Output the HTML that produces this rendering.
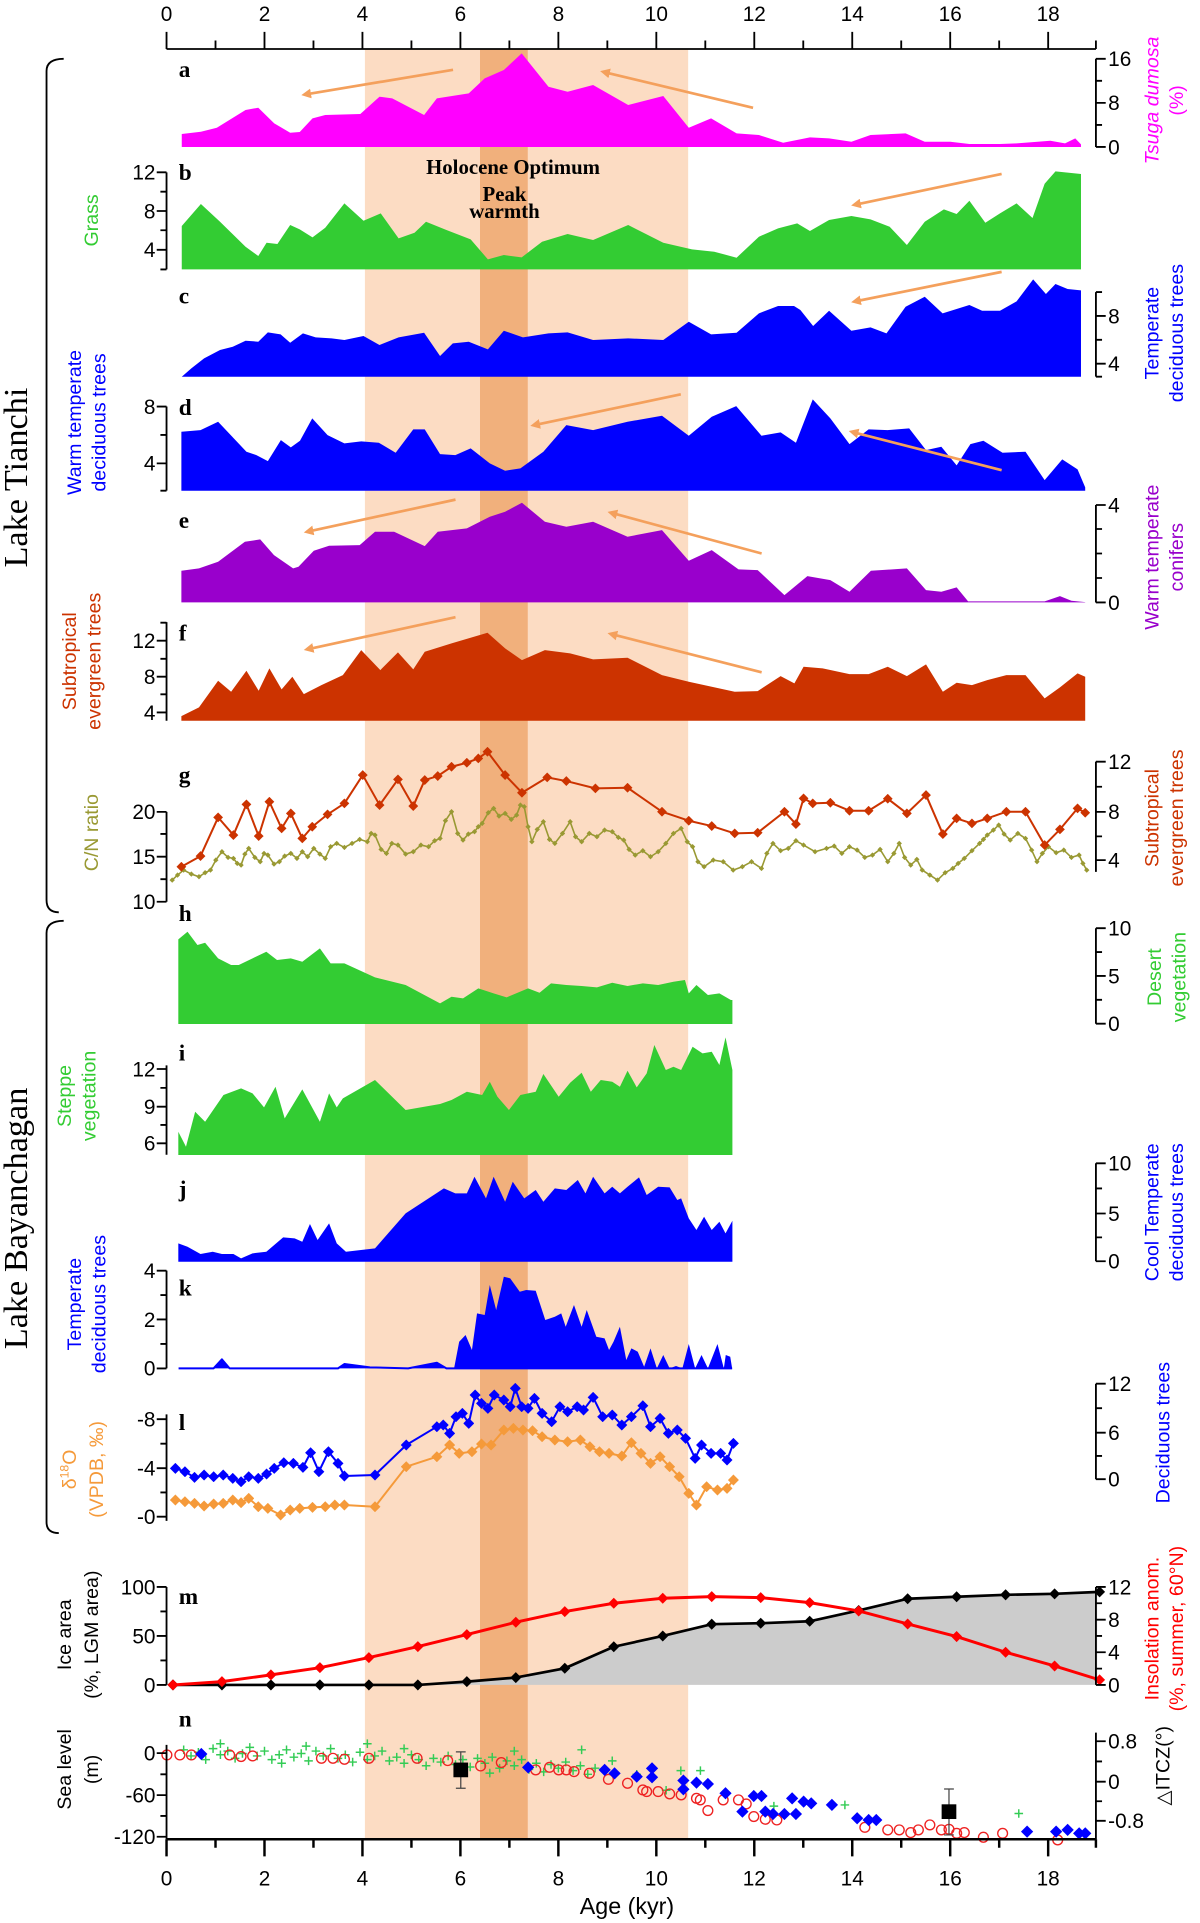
<!DOCTYPE html>
<html><head><meta charset="utf-8"><style>
html,body{margin:0;padding:0;background:#fff;}
svg{display:block;}
.ax{font-family:"Liberation Sans Narrow","Liberation Sans",sans-serif;font-size:17px;fill:#000;}
.pl{font-family:"Liberation Serif",serif;font-weight:bold;font-size:19px;}
.lb{font-family:"Liberation Sans",sans-serif;font-size:16px;text-anchor:middle;}
.lk{font-family:"Liberation Serif",serif;font-size:28px;text-anchor:middle;}
.ns{vector-effect:non-scaling-stroke;fill:none;stroke-linejoin:round;}
</style></head><body>
<svg xmlns="http://www.w3.org/2000/svg" width="1200" height="1923" viewBox="0 0 980 1570.4">
<defs>
<marker id="ah" markerWidth="8" markerHeight="8" refX="4" refY="4" orient="auto" markerUnits="userSpaceOnUse" viewBox="0 0 8 8"><path d="M0,0 L8,4 L0,8 Z" fill="#f4a05c"/></marker>
<marker id="m3r" markerUnits="userSpaceOnUse" viewBox="-6.4 -14.7 12.8 29.4" markerWidth="12.8" markerHeight="29.4" refX="0" refY="0"><path d="M0,-14.7L6.4,0L0,14.7L-6.4,0Z" fill="#cc3300"/></marker>
<marker id="m3o" markerUnits="userSpaceOnUse" viewBox="-3.5 -8.1 7 16.2" markerWidth="7" markerHeight="16.2" refX="0" refY="0"><path d="M0,-8.1L3.5,0L0,8.1L-3.5,0Z" fill="#999933"/></marker>
<marker id="m2b" markerUnits="userSpaceOnUse" viewBox="-8.6 -16.5 17.2 33" markerWidth="17.2" markerHeight="33" refX="0" refY="0"><path d="M0,-16.5L8.6,0L0,16.5L-8.6,0Z" fill="#0000ff"/></marker>
<marker id="m2o" markerUnits="userSpaceOnUse" viewBox="-8.6 -16.5 17.2 33" markerWidth="17.2" markerHeight="33" refX="0" refY="0"><path d="M0,-16.5L8.6,0L0,16.5L-8.6,0Z" fill="#f59a3a"/></marker>
<marker id="mk" markerUnits="userSpaceOnUse" viewBox="-5 -5 10 10" markerWidth="10" markerHeight="10" refX="0" refY="0"><path d="M0,-4.5L4.5,0L0,4.5L-4.5,0Z" fill="#000"/></marker>
<marker id="mr" markerUnits="userSpaceOnUse" viewBox="-5 -5 10 10" markerWidth="10" markerHeight="10" refX="0" refY="0"><path d="M0,-4.5L4.5,0L0,4.5L-4.5,0Z" fill="#ff0000"/></marker>
<marker id="mb" markerUnits="userSpaceOnUse" viewBox="-6 -6 12 12" markerWidth="12" markerHeight="12" refX="0" refY="0"><path d="M0,-5L5,0L0,5L-5,0Z" fill="#0000ff"/></marker>
<marker id="mc" markerUnits="userSpaceOnUse" viewBox="-6 -6 12 12" markerWidth="12" markerHeight="12" refX="0" refY="0"><circle r="4" fill="none" stroke="#ee2222" stroke-width="1.1"/></marker>
</defs>
<rect x="298" y="40" width="264" height="1462" fill="#fcdcc3"/>
<rect x="392" y="40" width="39" height="1462" fill="#f1b07c"/>

<!-- a,b,c (zoom1 coords) -->
<g transform="scale(0.52083,0.27222)">
<polygon fill="#ff00ff" points="285,440.8 285,402 315,395 340,383 385,330 405,323 430,370 455,398 470,396 490,355 510,345 565,342 595,290 615,295 665,345 685,295 735,280 760,235 790,210 818,160 860,260 890,275 930,255 985,315 1040,288 1080,383 1115,355 1155,400 1190,405 1228,428 1270,412 1300,415 1335,425 1365,405 1420,400 1450,425 1490,425 1520,432 1568,432 1594,430 1622,426 1647,422 1670,430 1686,415 1695,433 1695,440.8"/>
<polygon fill="#33cc33" points="285,808 285,678 315,612 345,665 385,740 405,768 418,728 435,732 455,675 470,688 490,712 510,683 540,610 570,662 597,640 625,715 650,698 668,665 700,690 738,718 765,778 790,765 818,772 850,725 890,702 930,720 985,675 1040,728 1085,748 1120,755 1155,773 1190,710 1220,685 1250,670 1270,693 1300,660 1335,648 1365,658 1395,680 1422,735 1450,665 1480,628 1500,642 1520,602 1545,668 1568,640 1594,610 1619,654 1638,551 1655,514 1676,518 1695,522 1695,808"/>
<polygon fill="#0000ff" points="285,1130 300,1105 320,1075 345,1050 365,1040 385,1022 405,1025 420,997 440,1003 455,1028 475,1000 495,1012 520,1015 540,1020 570,1008 595,1035 625,1012 665,998 690,1068 710,1030 735,1025 765,1048 790,992 820,1012 860,1000 890,997 930,1020 985,1015 1040,1020 1080,965 1115,1003 1155,998 1190,940 1220,918 1245,918 1255,930 1275,978 1300,932 1335,992 1365,982 1390,1000 1420,920 1450,890 1478,940 1520,915 1540,932 1568,932 1594,904 1620,838 1640,882 1655,852 1674,867 1695,871 1695,1130"/>
</g>

<!-- d,e,f,g (zoom3 coords) -->
<g transform="translate(0,326.7) scale(0.625,0.27222)">
<polygon fill="#0000ff" points="237,272 237,95 262,90 285,65 322,155 335,165 350,183 367,120 380,142 392,122 408,55 428,105 450,130 472,124 495,128 517,158 540,88 555,88 575,162 595,165 615,145 640,190 660,212 680,205 710,155 740,75 775,90 820,65 865,47 900,107 930,50 962,18 995,107 1020,97 1040,128 1062,-2 1085,55 1110,132 1135,88 1160,90 1188,85 1210,150 1230,140 1250,196 1268,132 1285,122 1310,158 1340,155 1365,240 1388,178 1408,208 1418,262 1418,272"/>
<polygon fill="#9900cc" points="237,607 237,512 260,505 285,485 320,425 340,418 358,465 383,505 390,500 410,452 430,437 470,435 490,395 515,395 555,438 572,395 610,385 640,350 660,335 682,308 712,365 740,380 775,365 820,410 865,390 900,482 930,450 965,508 990,510 1025,585 1055,528 1085,540 1110,575 1138,512 1185,505 1210,570 1230,575 1250,562 1265,604 1365,604 1385,588 1400,602 1418,606 1418,607"/>
<polygon fill="#cc3300" points="237,962 237,948 260,922 285,842 302,875 322,812 338,872 352,805 368,868 382,830 397,882 420,855 448,825 472,750 497,810 520,757 540,808 555,755 590,730 637,698 660,745 682,780 712,750 745,760 775,778 820,773 865,825 900,845 960,875 990,873 1020,828 1038,850 1050,800 1075,805 1110,822 1135,822 1160,800 1185,828 1210,793 1232,875 1250,848 1270,855 1290,840 1315,825 1340,825 1365,895 1385,862 1408,820 1418,830 1418,962"/>
<polyline class="ns" stroke="#999933" stroke-width="1.6" marker-start="url(#m3o)" marker-mid="url(#m3o)" marker-end="url(#m3o)" points="225,1440 232,1425 240,1410 250,1422 260,1430 268,1418 275,1410 282,1380 290,1355 298,1372 305,1375 310,1390 315,1395 320,1362 325,1345 333,1372 340,1385 345,1360 350,1365 358,1392 365,1385 372,1368 380,1360 388,1375 395,1355 402,1370 410,1345 418,1362 425,1375 432,1340 440,1330 450,1342 460,1330 470,1318 480,1325 485,1300 490,1305 498,1348 505,1360 512,1330 520,1335 530,1362 540,1355 550,1335 560,1340 568,1322 575,1315 582,1262 590,1235 598,1300 605,1320 612,1302 620,1295 625,1280 630,1270 638,1238 645,1225 652,1248 660,1240 668,1258 675,1245 680,1215 685,1220 690,1280 695,1325 702,1288 710,1265 718,1318 725,1330 735,1300 745,1265 752,1310 760,1325 770,1300 780,1310 790,1290 800,1295 808,1312 815,1320 822,1348 830,1365 840,1352 850,1370 860,1355 870,1330 880,1300 890,1285 898,1325 905,1340 912,1385 920,1400 932,1380 945,1385 958,1410 970,1400 982,1385 995,1405 1002,1360 1010,1330 1020,1352 1030,1345 1040,1322 1050,1335 1065,1355 1080,1345 1090,1338 1100,1360 1110,1340 1120,1350 1130,1372 1140,1365 1150,1348 1160,1385 1168,1360 1175,1330 1182,1372 1190,1395 1198,1378 1205,1410 1215,1425 1225,1440 1235,1418 1245,1405 1252,1390 1260,1375 1270,1352 1280,1330 1285,1318 1290,1305 1298,1290 1305,1275 1312,1302 1320,1320 1330,1300 1340,1315 1348,1350 1355,1385 1362,1360 1370,1340 1380,1358 1390,1350 1400,1372 1410,1365 1415,1390 1420,1410"/>
<polyline class="ns" stroke="#cc3300" stroke-width="2" marker-start="url(#m3r)" marker-mid="url(#m3r)" marker-end="url(#m3r)" points="237,1400 262,1368 285,1252 305,1305 322,1213 338,1308 352,1205 368,1285 380,1240 395,1315 408,1280 428,1243 450,1210 474,1125 496,1215 520,1138 540,1218 555,1140 572,1128 590,1100 610,1088 625,1075 637,1055 660,1125 682,1178 715,1132 740,1143 778,1165 820,1163 865,1235 900,1262 930,1278 960,1300 990,1298 1025,1235 1040,1272 1050,1195 1062,1210 1085,1208 1110,1232 1135,1232 1160,1196 1185,1240 1210,1185 1232,1302 1250,1255 1270,1270 1290,1255 1315,1235 1340,1235 1365,1335 1385,1288 1408,1225 1418,1238"/>
</g>

<!-- h,i,j (zoom4 coords) -->
<g transform="translate(0,735) scale(0.625,0.27222)">
<polygon fill="#33cc33" points="233,372 233,118 245,95 258,135 268,128 285,175 302,195 312,195 330,175 348,155 362,180 380,175 395,185 418,145 432,190 450,190 490,232 530,255 575,310 590,290 605,295 625,265 645,280 662,292 690,265 705,278 720,250 740,255 760,258 780,262 800,248 820,258 840,250 860,255 880,245 895,240 900,280 910,255 925,285 940,280 955,300 957,300 957,372"/>
<polygon fill="#33cc33" points="233,765 233,695 243,740 255,635 268,665 292,585 315,565 330,580 345,622 360,560 372,655 395,568 418,665 430,580 440,622 448,595 490,540 530,630 575,612 590,600 610,575 630,585 640,545 650,590 665,630 680,585 700,575 710,522 730,590 745,548 760,518 772,575 785,540 800,545 810,560 820,512 832,562 845,520 855,435 870,510 880,500 890,510 905,440 918,460 930,455 940,495 948,412 957,510 957,765"/>
<polygon fill="#0000ff" points="233,1085 233,1030 245,1040 262,1062 278,1055 290,1062 305,1062 315,1075 330,1060 348,1055 370,1012 385,1015 395,1025 405,972 415,1020 430,970 440,1030 452,1055 490,1045 530,940 580,865 595,880 610,880 620,830 635,895 645,830 660,905 670,845 685,895 700,870 710,905 725,865 740,870 755,840 765,880 775,830 790,880 800,860 810,880 820,860 835,832 845,885 860,860 875,862 885,900 890,895 900,955 910,990 920,950 930,990 940,965 948,1000 957,962 957,1085"/>
</g>

<!-- k,l (zoom2 coords) -->
<g transform="translate(0,1029) scale(0.52083,0.27222)">
<polygon fill="#0000ff" points="280,325 335,325 348,298 360,325 530,325 540,312 580,322 640,325 685,308 700,325 712,325 720,245 730,225 740,270 748,160 760,165 768,75 778,150 790,50 800,55 815,95 825,90 840,92 855,180 870,170 880,160 887,200 900,135 912,200 920,150 935,230 948,235 955,270 962,245 972,200 982,300 990,265 1000,275 1010,320 1020,265 1030,325 1040,285 1050,325 1060,318 1070,325 1080,252 1090,325 1100,285 1110,325 1125,252 1135,325 1138,285 1145,290 1148,325"/>
<polyline class="ns" stroke="#0000ff" stroke-width="2" points="280,325 335,325 348,298 360,325 530,325 540,312 580,322 640,325 685,308 700,325 712,325 1148,325"/>
<polyline class="ns" stroke="#0000ff" stroke-width="2" marker-start="url(#m2b)" marker-mid="url(#m2b)" marker-end="url(#m2b)" points="275,625 290,635 305,652 320,645 335,650 350,645 365,655 378,665 390,650 405,655 418,642 430,625 445,608 460,610 475,622 487,578 500,635 515,575 530,610 540,648 588,645 637,555 685,500 695,495 705,520 715,470 725,460 735,490 745,405 755,430 765,445 775,405 790,420 800,440 808,385 818,440 828,445 838,415 850,460 865,485 878,440 890,455 905,440 915,450 930,412 945,470 960,465 975,495 990,470 1008,437 1020,500 1035,475 1048,520 1062,510 1075,535 1090,595 1100,555 1115,580 1130,580 1140,600 1150,550"/>
<polyline class="ns" stroke="#f59a3a" stroke-width="2" marker-start="url(#m2o)" marker-mid="url(#m2o)" marker-end="url(#m2o)" points="275,720 290,725 305,730 320,738 335,732 350,730 365,720 378,728 390,715 405,740 420,745 440,765 455,750 470,745 490,742 510,740 525,735 540,735 588,740 637,620 685,590 705,555 720,580 740,575 755,552 770,555 790,510 805,505 820,510 835,512 850,530 870,540 890,545 910,540 925,560 940,575 955,580 975,588 990,548 1005,580 1020,610 1035,590 1050,620 1065,650 1080,700 1092,735 1108,680 1125,690 1140,685 1150,660"/>
</g>

<!-- m -->
<polygon fill="#cccccc" points="141.25,1376 181.25,1376 221.25,1376 261.25,1376 301.25,1376 341.25,1376 381.25,1373.3 421.25,1370 461.25,1362.4 501.25,1344.8 541.25,1336 581.25,1326.4 621.25,1325.6 661.25,1324 701.25,1315.2 741.25,1305.6 781.25,1304 821.25,1302.4 861.25,1301.6 896,1300 896,1376"/>
<polyline fill="none" stroke="#000" stroke-width="2.2" marker-start="url(#mk)" marker-mid="url(#mk)" marker-end="url(#mk)" points="141.25,1376 181.25,1376 221.25,1376 261.25,1376 301.25,1376 341.25,1376 381.25,1373.3 421.25,1370 461.25,1362.4 501.25,1344.8 541.25,1336 581.25,1326.4 621.25,1325.6 661.25,1324 701.25,1315.2 741.25,1305.6 781.25,1304 821.25,1302.4 861.25,1301.6 898,1300"/>
<polyline fill="none" stroke="#ff0000" stroke-width="2.4" marker-start="url(#mr)" marker-mid="url(#mr)" marker-end="url(#mr)" points="141.25,1376 181.25,1373.3 221.25,1367.8 261.25,1361.9 301.25,1353.7 341.25,1344.7 381.25,1334.9 421.25,1324.8 461.25,1316.1 501.25,1309.3 541.25,1305.2 581.25,1303.9 621.25,1304.7 661.25,1308.8 701.25,1315.6 741.25,1326.2 781.25,1336.5 821.25,1349.3 861.25,1360.5 898,1371.9"/>

<!-- n -->
<path fill="none" stroke="#33cc55" stroke-width="1.2" d="M150,1429m-3.5,0h7m-3.5,-3.5v7 M156,1434m-3.5,0h7m-3.5,-3.5v7 M162,1431m-3.5,0h7m-3.5,-3.5v7 M168,1437m-3.5,0h7m-3.5,-3.5v7 M174,1428m-3.5,0h7m-3.5,-3.5v7 M180,1433m-3.5,0h7m-3.5,-3.5v7 M186,1430m-3.5,0h7m-3.5,-3.5v7 M192,1436m-3.5,0h7m-3.5,-3.5v7 M198,1432m-3.5,0h7m-3.5,-3.5v7 M204,1427m-3.5,0h7m-3.5,-3.5v7 M210,1434m-3.5,0h7m-3.5,-3.5v7 M216,1430m-3.5,0h7m-3.5,-3.5v7 M222,1437m-3.5,0h7m-3.5,-3.5v7 M228,1433m-3.5,0h7m-3.5,-3.5v7 M234,1429m-3.5,0h7m-3.5,-3.5v7 M240,1435m-3.5,0h7m-3.5,-3.5v7 M246,1432m-3.5,0h7m-3.5,-3.5v7 M252,1438m-3.5,0h7m-3.5,-3.5v7 M258,1430m-3.5,0h7m-3.5,-3.5v7 M264,1434m-3.5,0h7m-3.5,-3.5v7 M270,1428m-3.5,0h7m-3.5,-3.5v7 M276,1436m-3.5,0h7m-3.5,-3.5v7 M282,1433m-3.5,0h7m-3.5,-3.5v7 M288,1439m-3.5,0h7m-3.5,-3.5v7 M294,1431m-3.5,0h7m-3.5,-3.5v7 M300,1437m-3.5,0h7m-3.5,-3.5v7 M306,1434m-3.5,0h7m-3.5,-3.5v7 M312,1430m-3.5,0h7m-3.5,-3.5v7 M318,1438m-3.5,0h7m-3.5,-3.5v7 M324,1435m-3.5,0h7m-3.5,-3.5v7 M330,1440m-3.5,0h7m-3.5,-3.5v7 M336,1433m-3.5,0h7m-3.5,-3.5v7 M342,1437m-3.5,0h7m-3.5,-3.5v7 M348,1442m-3.5,0h7m-3.5,-3.5v7 M354,1436m-3.5,0h7m-3.5,-3.5v7 M360,1439m-3.5,0h7m-3.5,-3.5v7 M366,1434m-3.5,0h7m-3.5,-3.5v7 M372,1441m-3.5,0h7m-3.5,-3.5v7 M378,1437m-3.5,0h7m-3.5,-3.5v7 M384,1443m-3.5,0h7m-3.5,-3.5v7 M390,1436m-3.5,0h7m-3.5,-3.5v7 M396,1440m-3.5,0h7m-3.5,-3.5v7 M402,1435m-3.5,0h7m-3.5,-3.5v7 M408,1444m-3.5,0h7m-3.5,-3.5v7 M414,1438m-3.5,0h7m-3.5,-3.5v7 M420,1442m-3.5,0h7m-3.5,-3.5v7 M426,1437m-3.5,0h7m-3.5,-3.5v7 M432,1445m-3.5,0h7m-3.5,-3.5v7 M438,1440m-3.5,0h7m-3.5,-3.5v7 M444,1447m-3.5,0h7m-3.5,-3.5v7 M450,1441m-3.5,0h7m-3.5,-3.5v7 M456,1444m-3.5,0h7m-3.5,-3.5v7 M462,1439m-3.5,0h7m-3.5,-3.5v7 M468,1446m-3.5,0h7m-3.5,-3.5v7 M474,1442m-3.5,0h7m-3.5,-3.5v7 M480,1449m-3.5,0h7m-3.5,-3.5v7 M486,1444m-3.5,0h7m-3.5,-3.5v7 M250,1426m-3.5,0h7m-3.5,-3.5v7 M300,1424m-3.5,0h7m-3.5,-3.5v7 M180,1424m-3.5,0h7m-3.5,-3.5v7 M420,1430m-3.5,0h7m-3.5,-3.5v7 M475,1429m-3.5,0h7m-3.5,-3.5v7 M500,1438m-3.5,0h7m-3.5,-3.5v7 M556,1446m-3.5,0h7m-3.5,-3.5v7 M572,1446m-3.5,0h7m-3.5,-3.5v7 M544,1462m-3.5,0h7m-3.5,-3.5v7 M632,1475m-3.5,0h7m-3.5,-3.5v7 M690,1474m-3.5,0h7m-3.5,-3.5v7 M832,1481m-3.5,0h7m-3.5,-3.5v7 M520,1449m-3.5,0h7m-3.5,-3.5v7 M230,1440m-3.5,0h7m-3.5,-3.5v7 M330,1428m-3.5,0h7m-3.5,-3.5v7 M400,1448m-3.5,0h7m-3.5,-3.5v7"/>
<polyline fill="none" stroke="none" marker-start="url(#mc)" marker-mid="url(#mc)" marker-end="url(#mc)" points="136.3,1433.2 146.9,1433.2 156.3,1433.2 187.5,1433.2 196.9,1434.5 206.3,1434 262.5,1435.9 271.9,1435.9 281.3,1436.7 301.3,1435.9 340.6,1435.9 365.6,1437.8 392.5,1442.2 409.4,1439.4 437.5,1445.4 448.8,1443.3 456.3,1445.4 462.5,1445.4 468.8,1446.8 481.3,1448.2 496.9,1453.1 512.5,1456.3 525,1461.8 528.1,1463.1 537.5,1463.1 546.9,1465 556.3,1465.8 568.8,1468.6 571.9,1469.9 578.1,1478.6 590.6,1469.9 603.1,1469.9 609.4,1473.2 615.6,1483.5 625,1485.7 634.4,1486.3 706.3,1492.3 725,1494.4 734.4,1494.4 743.8,1496.6 750,1494.4 759.4,1490.3 768.8,1494.4 775,1493.9 781.3,1497.2 787.5,1496.6 803.1,1500.4 818.8,1497.2 863.8,1502.6"/>
<polyline fill="none" stroke="none" marker-start="url(#mb)" marker-mid="url(#mb)" marker-end="url(#mb)" points="164.4,1432.4 431.3,1443.3 493.8,1445.4 501.9,1448.2 520,1450.9 532.5,1444.1 532.5,1451.4 558.1,1461.2 558.1,1454.1 568.8,1455.8 578.1,1456.9 592.5,1464.5 606.3,1479.5 615.6,1466.7 621.9,1466.7 625,1479.5 631.3,1481.4 640.6,1481.4 650,1481.4 646.9,1468.6 656.3,1471.3 662.5,1472.7 679.4,1474 700,1484.9 709.4,1486.3 715.6,1486.3 838.8,1495.8 862.5,1495.8 871.9,1494.4 881.3,1497.2 886.3,1497.2"/>
<path d="M376.3,1430.7V1460.4M372.3,1430.7h8M372.3,1460.4h8M775,1461V1498.5M771,1461h8M771,1498.5h8" stroke="#444" stroke-width="1" fill="none"/>
<rect x="370.3" y="1439.4" width="12" height="12" fill="#000"/>
<rect x="769" y="1473.5" width="12" height="12" fill="#000"/>

<!-- arrows -->
<g stroke="#f4a05c" stroke-width="2.2" fill="none">
<line x1="370" y1="57" x2="250" y2="77" marker-end="url(#ah)"/>
<line x1="615" y1="88" x2="494" y2="59" marker-end="url(#ah)"/>
<line x1="818" y1="142" x2="699" y2="167" marker-end="url(#ah)"/>
<line x1="818" y1="222" x2="699" y2="246" marker-end="url(#ah)"/>
<line x1="556" y1="322" x2="437" y2="347" marker-end="url(#ah)"/>
<line x1="818" y1="384" x2="697" y2="353" marker-end="url(#ah)"/>
<line x1="372" y1="408" x2="252" y2="434" marker-end="url(#ah)"/>
<line x1="622" y1="452" x2="500" y2="419" marker-end="url(#ah)"/>
<line x1="372" y1="504" x2="252" y2="530" marker-end="url(#ah)"/>
<line x1="622" y1="549" x2="500" y2="518" marker-end="url(#ah)"/>
</g>

<!-- axes -->
<g stroke="#000" stroke-width="1.5" fill="none">
<path d="M136,40H895 M136,40v-14 M176,40v-7 M216,40v-14 M256,40v-7 M296,40v-14 M336,40v-7 M376,40v-14 M416,40v-7 M456,40v-14 M496,40v-7 M536,40v-14 M576,40v-7 M616,40v-14 M656,40v-7 M696,40v-14 M736,40v-7 M776,40v-14 M816,40v-7 M856,40v-14 M895,40v-7"/>
<path stroke-width="2" d="M136,1502H895 M136,1502v14 M176,1502v7 M216,1502v14 M256,1502v7 M296,1502v14 M336,1502v7 M376,1502v14 M416,1502v7 M456,1502v14 M496,1502v7 M536,1502v14 M576,1502v7 M616,1502v14 M656,1502v7 M696,1502v14 M736,1502v7 M776,1502v14 M816,1502v7 M856,1502v14 M895,1502v7"/>
<!-- left axes -->
<path d="M136,140.7V220 M128,140.7H136 M128,172.3H136 M128,204H136 M131,156.5H136 M131,188H136 M131,220H136"/>
<path d="M136,332V400.7 M128,332H136 M128,378.4H136 M131,355.2H136 M131,400.7H136"/>
<path d="M136,508V588.6 M128,523.2H136 M128,552.6H136 M128,581.8H136 M131,508.5H136 M131,538H136 M131,567H136"/>
<path d="M136,663V736.4 M128,663H136 M128,699.6H136 M128,736.4H136 M131,681H136 M131,718H136"/>
<path d="M136,870V943 M128,873H136 M128,903.8H136 M128,933.7H136 M131,888.4H136 M131,918.7H136"/>
<path d="M136,1037.7V1117.5 M128,1037.7H136 M128,1077.5H136 M128,1117.5H136 M131,1057.6H136 M131,1097.5H136"/>
<path d="M136,1155V1242 M128,1159H136 M128,1199H136 M128,1238.6H136 M131,1179H136 M131,1218.8H136"/>
<path d="M136,1296V1376 M128,1296H136 M128,1336H136 M128,1376H136 M131,1316H136 M131,1356H136"/>
<path d="M136,1425V1502 M128,1431.7H136 M128,1466H136 M128,1500H136 M131,1449H136 M131,1483H136"/>
<!-- right axes -->
<path d="M895,48V120 M895,120h8 M895,84h8 M895,48h8 M895,102h5 M895,66h5"/>
<path d="M895,238.5V307.6 M895,297h8 M895,258h8 M895,307.6h5 M895,277.5h5 M895,238.5h5"/>
<path d="M895,412.4V492 M895,492h8 M895,412.4h8 M895,472h5 M895,452h5 M895,432h5"/>
<path d="M895,622V712 M895,702.4h8 M895,663h8 M895,622h8 M895,683h5 M895,642.5h5"/>
<path d="M895,758V836 M895,836h8 M895,797h8 M895,758h8 M895,816.5h5 M895,777.5h5"/>
<path d="M895,950V1030 M895,1030h8 M895,991h8 M895,950h8 M895,1010.5h5 M895,970.5h5"/>
<path d="M895,1130V1208 M895,1208h8 M895,1170h8 M895,1130h8 M895,1189h5 M895,1150h5"/>
<path d="M895,1296V1376 M895,1376h8 M895,1349.3h8 M895,1322.7h8 M895,1296h8 M895,1362.7h5 M895,1336h5 M895,1309.3h5"/>
<path d="M895,1415V1502 M895,1422h8 M895,1455h8 M895,1487h8 M895,1438.5h5 M895,1471h5"/>
</g>

<!-- text -->
<g class="ax" text-anchor="middle">
<text x="136" y="17">0</text><text x="216" y="17">2</text><text x="296" y="17">4</text><text x="376" y="17">6</text><text x="456" y="17">8</text><text x="536" y="17">10</text><text x="616" y="17">12</text><text x="696" y="17">14</text><text x="776" y="17">16</text><text x="856" y="17">18</text>
<text x="136" y="1540">0</text><text x="216" y="1540">2</text><text x="296" y="1540">4</text><text x="376" y="1540">6</text><text x="456" y="1540">8</text><text x="536" y="1540">10</text><text x="616" y="1540">12</text><text x="696" y="1540">14</text><text x="776" y="1540">16</text><text x="856" y="1540">18</text>
<text x="512" y="1563" style="font-size:19px">Age (kyr)</text>
</g>
<g class="ax" text-anchor="end">
<text x="127" y="146.7">12</text><text x="127" y="178.3">8</text><text x="127" y="210">4</text>
<text x="127" y="338">8</text><text x="127" y="384.4">4</text>
<text x="127" y="529.2">12</text><text x="127" y="558.6">8</text><text x="127" y="587.8">4</text>
<text x="127" y="669">20</text><text x="127" y="705.6">15</text><text x="127" y="742.4">10</text>
<text x="127" y="879">12</text><text x="127" y="909.8">9</text><text x="127" y="939.7">6</text>
<text x="127" y="1043.7">4</text><text x="127" y="1083.5">2</text><text x="127" y="1123.5">0</text>
<text x="127" y="1165">-8</text><text x="127" y="1205">-4</text><text x="127" y="1244.6">-0</text>
<text x="127" y="1302">100</text><text x="127" y="1342">50</text><text x="127" y="1382">0</text>
<text x="127" y="1437.7">0</text><text x="127" y="1472">-60</text><text x="127" y="1506">-120</text>
</g>
<g class="ax" text-anchor="start">
<text x="905" y="126">0</text><text x="905" y="90">8</text><text x="905" y="54">16</text>
<text x="905" y="303">4</text><text x="905" y="264">8</text>
<text x="905" y="498">0</text><text x="905" y="418.4">4</text>
<text x="905" y="708.4">4</text><text x="905" y="669">8</text><text x="905" y="628">12</text>
<text x="905" y="842">0</text><text x="905" y="803">5</text><text x="905" y="764">10</text>
<text x="905" y="1036">0</text><text x="905" y="997">5</text><text x="905" y="956">10</text>
<text x="905" y="1214">0</text><text x="905" y="1176">6</text><text x="905" y="1136">12</text>
<text x="905" y="1382">0</text><text x="905" y="1355.3">4</text><text x="905" y="1328.7">8</text><text x="905" y="1302">12</text>
<text x="905" y="1428">0.8</text><text x="905" y="1461">0</text><text x="905" y="1493">-0.8</text>
</g>
<g class="pl">
<text x="146" y="63">a</text><text x="146" y="147">b</text><text x="146" y="248">c</text><text x="146" y="339">d</text><text x="146" y="431">e</text><text x="146" y="523">f</text><text x="146" y="639">g</text><text x="146" y="752">h</text><text x="146" y="866">i</text><text x="146" y="977">j</text><text x="146" y="1058">k</text><text x="146" y="1168">l</text><text x="146" y="1310">m</text><text x="146" y="1410">n</text>
</g>
<g style="font-family:'Liberation Serif',serif;font-weight:bold;font-size:17px;text-anchor:middle">
<text x="419" y="142">Holocene Optimum</text>
<text x="412" y="164">Peak</text>
<text x="412" y="178">warmth</text>
</g>
<g class="lb">
<text transform="translate(80,180) rotate(-90)" fill="#33cc33">Grass</text>
<text transform="translate(66,345) rotate(-90)" fill="#0000ff">Warm temperate</text>
<text transform="translate(86,345) rotate(-90)" fill="#0000ff">deciduous trees</text>
<text transform="translate(62,540) rotate(-90)" fill="#cc3300">Subtropical</text>
<text transform="translate(82,540) rotate(-90)" fill="#cc3300">evergreen trees</text>
<text transform="translate(80,680) rotate(-90)" fill="#999933">C/N ratio</text>
<text transform="translate(58,895) rotate(-90)" fill="#33cc33">Steppe</text>
<text transform="translate(78,895) rotate(-90)" fill="#33cc33">vegetation</text>
<text transform="translate(66,1065) rotate(-90)" fill="#0000ff">Temperate</text>
<text transform="translate(86,1065) rotate(-90)" fill="#0000ff">deciduous trees</text>
<text transform="translate(62,1200) rotate(-90)" fill="#f59a3a">δ<tspan dy="-6" font-size="10">18</tspan><tspan dy="6">O</tspan></text>
<text transform="translate(84,1200) rotate(-90)" fill="#f59a3a">(VPDB, ‰)</text>
<text transform="translate(58,1335) rotate(-90)" fill="#000">Ice area</text>
<text transform="translate(80,1335) rotate(-90)" fill="#000">(%, LGM area)</text>
<text transform="translate(58,1445) rotate(-90)" fill="#000">Sea level</text>
<text transform="translate(80,1445) rotate(-90)" fill="#000">(m)</text>
<text transform="translate(946,82) rotate(-90)" fill="#ff00ff" font-style="italic">Tsuga dumosa</text>
<text transform="translate(966,82) rotate(-90)" fill="#ff00ff">(%)</text>
<text transform="translate(946,272) rotate(-90)" fill="#0000ff">Temperate</text>
<text transform="translate(966,272) rotate(-90)" fill="#0000ff">deciduous trees</text>
<text transform="translate(946,455) rotate(-90)" fill="#9900cc">Warm temperate</text>
<text transform="translate(966,455) rotate(-90)" fill="#9900cc">conifers</text>
<text transform="translate(946,668) rotate(-90)" fill="#cc3300">Subtropical</text>
<text transform="translate(966,668) rotate(-90)" fill="#cc3300">evergreen trees</text>
<text transform="translate(948,798) rotate(-90)" fill="#33cc33">Desert</text>
<text transform="translate(968,798) rotate(-90)" fill="#33cc33">vegetation</text>
<text transform="translate(946,990) rotate(-90)" fill="#0000ff">Cool Temperate</text>
<text transform="translate(966,990) rotate(-90)" fill="#0000ff">deciduous trees</text>
<text transform="translate(955,1170) rotate(-90)" fill="#0000ff">Deciduous trees</text>
<text transform="translate(946,1330) rotate(-90)" fill="#ff0000">Insolation anom.</text>
<text transform="translate(966,1330) rotate(-90)" fill="#ff0000">(%, summer, 60°N)</text>
<text transform="translate(955,1442) rotate(-90)" fill="#000">△ITCZ(°)</text>
</g>
<g class="lk">
<text transform="translate(22,390) rotate(-90)">Lake Tianchi</text>
<text transform="translate(22,995) rotate(-90)">Lake Bayanchagan</text>
</g>
<path d="M52,48 Q38,48 38,58 L38,735 Q38,745 48,745" stroke="#000" stroke-width="1.5" fill="none"/>
<path d="M52,752 Q38,752 38,762 L38,1243 Q38,1252 48,1252" stroke="#000" stroke-width="1.5" fill="none"/>
</svg>
</body></html>
